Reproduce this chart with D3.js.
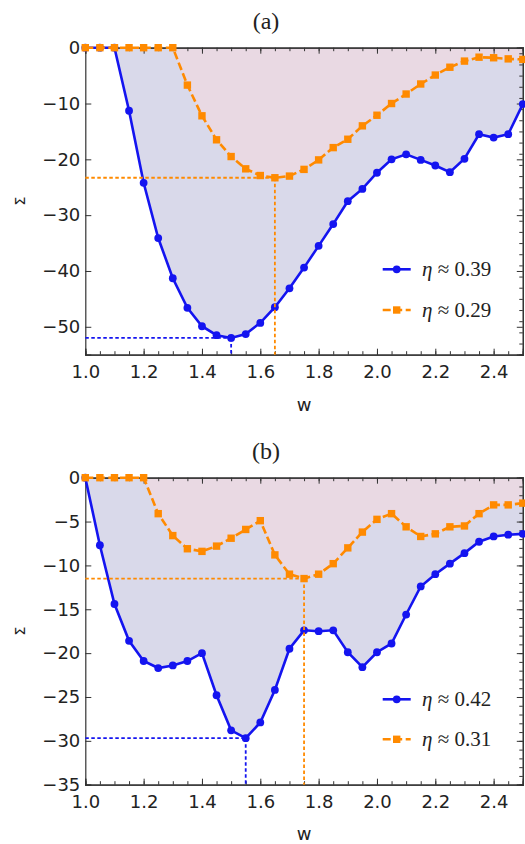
<!DOCTYPE html>
<html><head><meta charset="utf-8">
<script src="https://cdn.jsdelivr.net/npm/d3@7"></script>
<style>body{margin:0;background:#fff}svg{display:block}</style>
</head><body>
<script>
const wValues = [1.0,1.05,1.1,1.15,1.2,1.25,1.3,1.35,1.4,1.45,1.5,1.55,1.6,1.65,1.7,1.75,1.8,1.85,1.9,1.95,2.0,2.05,2.1,2.15,2.2,2.25,2.3,2.35,2.4,2.45,2.5];
const blueA = [0,0,0,-11.3,-24.2,-34.1,-41.3,-46.6,-49.9,-51.5,-52.0,-51.3,-49.3,-46.5,-43.1,-39.4,-35.5,-31.6,-27.5,-25.3,-22.4,-20.0,-19.1,-20.1,-21.1,-22.3,-19.9,-15.5,-16.1,-15.5,-10.1];
const orangeA = [0,0,0,0,0,0,0,-6.7,-12.2,-16.5,-19.5,-21.7,-22.9,-23.3,-23.0,-21.8,-20.1,-17.9,-16.4,-14.0,-12.1,-10.0,-8.3,-6.5,-4.9,-3.5,-2.4,-1.7,-1.8,-2.0,-2.1];
const blueB = [0,-7.7,-14.4,-18.6,-20.9,-21.7,-21.4,-20.9,-20.0,-24.8,-28.8,-29.7,-27.9,-24.2,-19.5,-17.4,-17.5,-17.4,-19.9,-21.6,-19.9,-18.9,-15.6,-12.4,-11.0,-9.8,-8.6,-7.3,-6.7,-6.5,-6.4];
const orangeB = [0,0,0,0,0,-4.1,-6.6,-8.1,-8.4,-7.8,-6.9,-5.9,-4.9,-8.8,-11.0,-11.5,-11.0,-9.8,-8.0,-6.2,-4.75,-4.1,-5.6,-6.7,-6.4,-5.6,-5.5,-4.1,-3.1,-3.1,-2.9];
const xTicks = [1.0,1.2,1.4,1.6,1.8,2.0,2.2,2.4];
const yTicksA = [0,-10,-20,-30,-40,-50];
const yTicksB = [0,-5,-10,-15,-20,-25,-30,-35];
const panelTitles = ["(a)","(b)"];
const legendA = ["η ≈ 0.39","η ≈ 0.29"];
const legendB = ["η ≈ 0.42","η ≈ 0.31"];

const W = 525, H = 844;
const BLUE = "#1414f0", ORANGE = "#ff8a00";
const svg = d3.select("body").append("svg").attr("width", W).attr("height", H);
const x0 = 85.3, x1 = 522.8;

function panel(cfg) {
  const x = d3.scaleLinear().domain([1.0, 2.5]).range([x0, x1]);
  const y = d3.scaleLinear().domain(cfg.ydom).range([cfg.bottom, cfg.top]);
  const g = svg.append("g");
  const blue = wValues.map((w,i)=>({w, v: cfg.blue[i]}));
  const orange = wValues.map((w,i)=>({w, v: cfg.orange[i]}));
  const area = d3.area().x(d=>x(d.w)).y0(y(0)).y1(d=>y(d.v));
  g.append("path").datum(blue).attr("d", area).attr("fill", "#d9d9ea");
  g.append("path").datum(orange).attr("d", area).attr("fill", "#e9d9e3");

  const fc = "#333";
  const minorY = d3.range(cfg.ydom[0], cfg.ydom[1] + 0.001, cfg.minorStep);
  const minorX = d3.range(1.0, 2.5001, 0.05);
  const axL = d3.axisLeft(y).tickValues(cfg.yticks).tickSize(-6).tickPadding(5).tickFormat(d=>d===0?"0":"−"+Math.abs(d));
  const gL = g.append("g").attr("transform", `translate(${x0},0)`);
  gL.call(d3.axisLeft(y).tickValues(minorY).tickSize(-3.5).tickFormat(""));
  gL.call(axL);
  const gR = g.append("g").attr("transform", `translate(${x1},0)`);
  gR.call(d3.axisRight(y).tickValues(minorY).tickSize(-3.5).tickFormat(""));
  gR.append("g").call(d3.axisRight(y).tickValues(cfg.yticks).tickSize(-6).tickFormat(""));
  const gB = g.append("g").attr("transform", `translate(0,${cfg.bottom})`);
  gB.call(d3.axisBottom(x).tickValues(minorX).tickSize(-3.5).tickFormat(""));
  gB.append("g").call(d3.axisBottom(x).tickValues(xTicks).tickSize(-6).tickPadding(11).tickFormat(d3.format(".1f")));
  const gT = g.append("g").attr("transform", `translate(0,${cfg.top})`);
  gT.call(d3.axisTop(x).tickValues(minorX).tickSize(-3.5).tickFormat(""));
  gT.append("g").call(d3.axisTop(x).tickValues(xTicks).tickSize(-6).tickFormat(""));
  g.selectAll(".domain").attr("stroke", fc).attr("stroke-width", 1.2);
  g.selectAll(".tick line").attr("stroke", fc).attr("stroke-width", 1);
  g.selectAll(".tick text").attr("font-family", "DejaVu Sans").attr("font-size", 18).attr("fill", "#222");

  const line = d3.line().x(d=>x(d.w)).y(d=>y(d.v));
  g.append("path").datum(blue).attr("d", line).attr("fill","none").attr("stroke",BLUE).attr("stroke-width",2.6);
  g.selectAll(".bc").data(blue).enter().append("circle").attr("cx",d=>x(d.w)).attr("cy",d=>y(d.v)).attr("r",3.9).attr("fill",BLUE);
  g.append("path").datum(orange).attr("d", line).attr("fill","none").attr("stroke",ORANGE).attr("stroke-width",2.6).attr("stroke-dasharray","8,3.5");
  g.selectAll(".os").data(orange).enter().append("rect").attr("x",d=>x(d.w)-3.7).attr("y",d=>y(d.v)-3.7).attr("width",7.4).attr("height",7.4).attr("fill",ORANGE);

  [[blue, BLUE],[orange, ORANGE]].forEach(([s,c])=>{
    const m = s.reduce((a,b)=>b.v<a.v?b:a);
    g.append("line").attr("x1",x0).attr("x2",x(m.w)).attr("y1",y(m.v)).attr("y2",y(m.v)).attr("stroke",c).attr("stroke-width",1.8).attr("stroke-dasharray","3.5,2.5");
    g.append("line").attr("x1",x(m.w)).attr("x2",x(m.w)).attr("y1",y(m.v)).attr("y2",cfg.bottom).attr("stroke",c).attr("stroke-width",1.8).attr("stroke-dasharray","3.5,2.5");
  });

  const lg = g.append("g");
  cfg.legend.forEach((t,i)=>{
    const ly = cfg.legY[i];
    const c = i===0?BLUE:ORANGE;
    lg.append("line").attr("x1",382.7).attr("x2",410.7).attr("y1",ly).attr("y2",ly).attr("stroke",c).attr("stroke-width",2.6).attr("stroke-dasharray", i===0?null:"8,3.5");
    if(i===0) lg.append("circle").attr("cx",396.7).attr("cy",ly).attr("r",3.9).attr("fill",c);
    else lg.append("rect").attr("x",393).attr("y",ly-3.7).attr("width",7.4).attr("height",7.4).attr("fill",c);
    const tx = lg.append("text").attr("x",422).attr("y",ly+7).attr("font-family","Liberation Serif").attr("font-size",21).attr("fill","#222");
    tx.append("tspan").attr("font-style","italic").text(t.slice(0,1));
    tx.append("tspan").text(t.slice(1));
  });

  svg.append("text").attr("x",266).attr("y",cfg.titleY).attr("text-anchor","middle").attr("font-family","Liberation Serif").attr("font-size",24).attr("fill","#222").text(cfg.title);
  svg.append("text").attr("x",(x0+x1)/2).attr("y",cfg.wY).attr("text-anchor","middle").attr("font-family","DejaVu Sans").attr("font-size",18).attr("fill","#222").text("w");
  svg.append("text").attr("transform",`translate(25,${(cfg.top+cfg.bottom)/2}) rotate(-90)`).attr("text-anchor","middle").attr("font-family","DejaVu Sans").attr("font-size",14).attr("fill","#222").text("Σ");
}

panel({ydom:[-55,0], top:47.7, bottom:354.7, blue:blueA, orange:orangeA, yticks:yTicksA, minorStep:2,
  legend:legendA, legY:[269.3,310], title:panelTitles[0], titleY:29, wY:411});
panel({ydom:[-35,0], top:477.7, bottom:784.7, blue:blueB, orange:orangeB, yticks:yTicksB, minorStep:1,
  legend:legendB, legY:[699.3,739.3], title:panelTitles[1], titleY:459, wY:840});
</script>
</body></html>
